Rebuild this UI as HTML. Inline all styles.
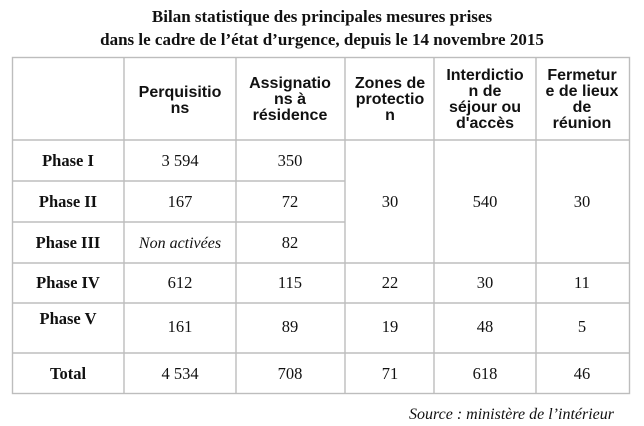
<!DOCTYPE html>
<html><head><meta charset="utf-8"><style>
html,body{margin:0;padding:0;background:#fff;width:644px;height:426px;overflow:hidden}
svg text{fill:#111}
.t{font-family:"Liberation Serif",serif;font-weight:bold;font-size:17px}
.h{font-family:"Liberation Sans",sans-serif;font-weight:bold;font-size:16px}
.r{font-family:"Liberation Serif",serif;font-weight:bold;font-size:16.5px}
.v{font-family:"Liberation Serif",serif;font-size:16.5px}
.s{font-family:"Liberation Serif",serif;font-style:italic;font-size:16px}
</style></head><body>
<svg width="644" height="426">
<text class="t" x="322" y="22" text-anchor="middle">Bilan statistique des principales mesures prises</text>
<text class="t" x="322" y="45" text-anchor="middle">dans le cadre de l’état d’urgence, depuis le 14 novembre 2015</text>
<g stroke="#bdbdbd" stroke-width="1.4">
<rect x="12.5" y="57.5" width="617" height="336" fill="none"/>
<line x1="124" y1="57" x2="124" y2="394"/>
<line x1="236" y1="57" x2="236" y2="394"/>
<line x1="345" y1="57" x2="345" y2="394"/>
<line x1="434" y1="57" x2="434" y2="394"/>
<line x1="536" y1="57" x2="536" y2="394"/>
<line x1="12" y1="140" x2="629" y2="140"/>
<line x1="12" y1="181" x2="345" y2="181"/>
<line x1="12" y1="222" x2="345" y2="222"/>
<line x1="12" y1="263" x2="629" y2="263"/>
<line x1="12" y1="303" x2="629" y2="303"/>
<line x1="12" y1="353" x2="629" y2="353"/>
</g>
<g class="h" text-anchor="middle">
<text x="180" y="97">Perquisitio</text><text x="180" y="113">ns</text>
<text x="290" y="88">Assignatio</text><text x="290" y="104">ns à</text><text x="290" y="120">résidence</text>
<text x="390" y="88">Zones de</text><text x="390" y="104">protectio</text><text x="390" y="120">n</text>
<text x="485" y="80">Interdictio</text><text x="485" y="96">n de</text><text x="485" y="112">séjour ou</text><text x="485" y="128">d'accès</text>
<text x="582" y="80">Fermetur</text><text x="582" y="96">e de lieux</text><text x="582" y="112">de</text><text x="582" y="128">réunion</text>
</g>
<g class="r" text-anchor="middle">
<text x="68" y="166">Phase I</text>
<text x="68" y="207">Phase II</text>
<text x="68" y="248">Phase III</text>
<text x="68" y="288">Phase IV</text>
<text x="68" y="324">Phase V</text>
<text x="68" y="379">Total</text>
</g>
<g class="v" text-anchor="middle">
<text x="180" y="166">3 594</text><text x="290" y="166">350</text>
<text x="180" y="207">167</text><text x="290" y="207">72</text>
<text x="180" y="248" class="s">Non activées</text><text x="290" y="248">82</text>
<text x="390" y="207">30</text><text x="485" y="207">540</text><text x="582" y="207">30</text>
<text x="180" y="288">612</text><text x="290" y="288">115</text><text x="390" y="288">22</text><text x="485" y="288">30</text><text x="582" y="288">11</text>
<text x="180" y="332">161</text><text x="290" y="332">89</text><text x="390" y="332">19</text><text x="485" y="332">48</text><text x="582" y="332">5</text>
<text x="180" y="379">4 534</text><text x="290" y="379">708</text><text x="390" y="379">71</text><text x="485" y="379">618</text><text x="582" y="379">46</text>
</g>
<text class="s" x="614" y="419" text-anchor="end">Source : ministère de l’intérieur</text>
</svg>
</body></html>
